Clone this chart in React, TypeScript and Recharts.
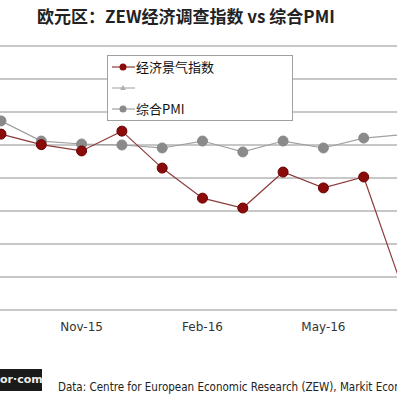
import React from 'react';
import { LineChart, Line, XAxis, YAxis, ReferenceLine, Legend } from 'recharts';

const months = ['Sep-15', 'Oct-15', 'Nov-15', 'Dec-15', 'Jan-16', 'Feb-16', 'Mar-16', 'Apr-16', 'May-16', 'Jun-16', 'Jul-16'];
const zewValues = [33.3, 30.1, 28.2, 34.2, 23.0, 13.9, 10.9, 21.8, 17.0, 20.3, -14.7];
const pmiValues = [53.73, 53.12, 53.03, 53.0, 52.91, 53.12, 52.79, 53.12, 52.91, 53.21, 53.32];
const xTicks = ['Nov-15', 'Feb-16', 'May-16'];
const zewTicks = [-20, -10, 0, 10, 20, 30, 40, 50, 60];
const pmiDomain = [48, 56];

const legendItems = [
  { label: '经济景气指数', color: '#8b0a0a', line: '#8b3a3a', shape: 'circle' },
  { label: '', color: '#b0b0b0', line: '#b0b0b0', shape: 'triangle' },
  { label: '综合PMI', color: '#8a8a8a', line: '#a0a0a0', shape: 'circle' },
];

const data = months.map((m, i) => ({ month: m, zew: zewValues[i], pmi: pmiValues[i] }));

const LegendBox = () => (
  <div
    style={{
      width: 184,
      height: 64,
      border: '1px solid #a0a0a0',
      background: '#fff',
      fontFamily: '"Noto Sans CJK SC", sans-serif',
      fontSize: 13,
      color: '#111',
    }}
  >
    {legendItems.map((item, i) => (
      <div key={i} style={{ height: 21, display: 'flex', alignItems: 'center' }}>
        <svg width={24} height={12} style={{ marginLeft: 4 }}>
          <line x1={0} y1={6} x2={23} y2={6} stroke={item.line} strokeWidth={1.2} />
          {item.shape === 'circle' ? (
            <circle cx={11} cy={6} r={3.5} fill={item.color} />
          ) : (
            <polygon points="11,3 14,8 8,8" fill={item.color} />
          )}
        </svg>
        <span style={{ lineHeight: 1 }}>{item.label}</span>
      </div>
    ))}
  </div>
);

export default function App() {
  return (
    <div style={{ position: 'absolute', left: 0, top: 0, width: 397, height: 397, overflow: 'hidden', background: '#fff' }}>
      <div
        style={{
          position: 'absolute',
          left: 37,
          top: 3,
          fontFamily: '"Noto Sans CJK SC", sans-serif',
          fontWeight: 700,
          fontSize: 17,
          color: '#222',
          whiteSpace: 'nowrap',
        }}
      >
        欧元区：ZEW经济调查指数 vs 综合PMI
      </div>
      <div style={{ position: 'absolute', left: -39, top: 0 }}>
        <LineChart width={480} height={345} data={data} margin={{ top: 46, right: 0, bottom: 0, left: 0 }}>
          <XAxis
            dataKey="month"
            ticks={xTicks}
            interval={0}
            padding={{ left: 40, right: 37 }}
            axisLine={false}
            tickLine={false}
            tickMargin={6}
            height={35}
            tick={{ fill: '#333', fontSize: 12, fontFamily: '"DejaVu Sans", sans-serif' }}
          />
          <YAxis yAxisId="zew" domain={[-20, 60]} ticks={zewTicks} width={0} tick={false} axisLine={false} tickLine={false} />
          <YAxis yAxisId="pmi" orientation="right" domain={pmiDomain} width={0} tick={false} axisLine={false} tickLine={false} />
          {/* horizontal grid rows on the left axis */}
          {zewTicks.map((t) => (
            <ReferenceLine key={t} yAxisId="zew" y={t} stroke="#b4b4b4" strokeWidth={1.5} />
          ))}
          <Legend
            layout="vertical"
            align="center"
            verticalAlign="middle"
            content={<LegendBox />}
            wrapperStyle={{ left: 146, top: 55, width: 186, height: 66 }}
          />
          <Line
            yAxisId="pmi"
            dataKey="pmi"
            name="综合PMI"
            stroke="#a0a0a0"
            strokeWidth={1.2}
            dot={{ r: 5, fill: '#8a8a8a', stroke: '#8a8a8a', strokeWidth: 1 }}
            isAnimationActive={false}
          />
          <Line
            yAxisId="zew"
            dataKey="zew"
            name="经济景气指数"
            stroke="#8b3a3a"
            strokeWidth={1.2}
            dot={{ r: 5, fill: '#8b0a0a', stroke: '#6b0000', strokeWidth: 1 }}
            isAnimationActive={false}
          />
        </LineChart>
      </div>
      <div
        style={{
          position: 'absolute',
          left: 0,
          top: 369,
          width: 42,
          height: 22,
          background: '#1a1a1a',
          color: '#eee',
          fontFamily: '"DejaVu Sans", sans-serif',
          fontWeight: 700,
          fontSize: 11,
          lineHeight: '22px',
          overflow: 'hidden',
          whiteSpace: 'nowrap',
          textAlign: 'right',
          paddingRight: 3,
          boxSizing: 'border-box',
        }}
      >
        or·com
      </div>
      <div
        style={{
          position: 'absolute',
          left: 58,
          top: 380,
          fontFamily: '"DejaVu Sans Condensed", "DejaVu Sans", sans-serif',
          fontSize: 11.5,
          color: '#222',
          whiteSpace: 'nowrap',
        }}
      >
        Data: Centre for European Economic Research (ZEW), Markit Economics
      </div>
    </div>
  );
}
